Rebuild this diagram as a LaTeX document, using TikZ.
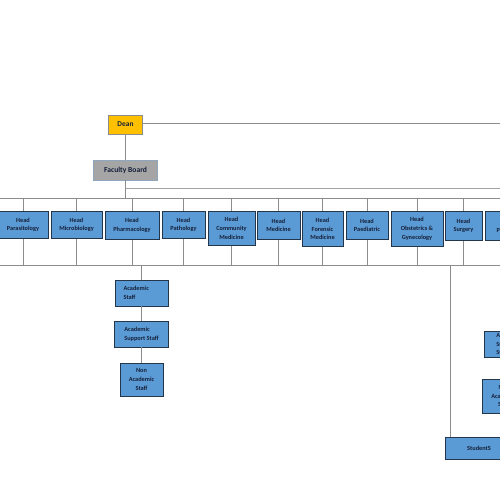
\documentclass[tikz,border=0pt]{standalone}
\usepackage{fontspec}
\setmainfont{Carlito}
\definecolor{headblue}{HTML}{5B9BD5}
\definecolor{boxedge}{HTML}{26364A}
\definecolor{txtnavy}{HTML}{15203A}
\definecolor{deangold}{HTML}{FFC000}
\definecolor{fbgray}{HTML}{A5A5A5}
\definecolor{fbedge}{HTML}{8FA6BF}
\definecolor{linegray}{HTML}{8C8C8C}
\tikzset{
  orgbox/.style={draw=boxedge, fill=headblue, text=txtnavy, line width=0.8pt,
    inner sep=0pt, align=center, font=\bfseries\fontsize{6.3}{8.8}\selectfont},
  headbox/.style={orgbox, anchor=north, minimum height=#1},
  headbox/.default=27pt,
  conn/.style={draw=linegray, line width=0.8pt},
}
\begin{document}
\begin{tikzpicture}[x=1pt,y=-1pt]
\useasboundingbox (0,0) rectangle (500,500);
\fill[white] (0,0) rectangle (500,500);
\clip (0,0) rectangle (500,500);

% top
\node[orgbox, fill=deangold, draw=linegray, minimum width=34pt, minimum height=19pt,
      font=\bfseries\fontsize{7.4}{9}\selectfont] (dean) at (125.5,124.5) {Dean};
\node[orgbox, fill=fbgray, draw=fbedge, minimum width=64pt, minimum height=20pt,
      font=\bfseries\fontsize{7.6}{9}\selectfont] (fb) at (125.5,170) {Faculty Board};

\coordinate (deanR) at (500,123);
\coordinate (midR) at (500,188);
\coordinate (busTL) at (0,198);
\coordinate (busTR) at (500,198);
\coordinate (busBL) at (0,265);
\coordinate (busBR) at (500,265);
\coordinate (stu) at (450,265);

\draw[conn] (dean.east |- deanR) -- (deanR);
\draw[conn] (dean.south) -- (fb.north);
\draw[conn] (fb.south) -- (fb.south |- busTL);
\draw[conn, draw=linegray!80] (fb.south |- midR) -- (midR);
\draw[conn] (busTL) -- (busTR);
\draw[conn] (busBL) -- (busBR);

% heads
\node[headbox, minimum width=50pt] (h1) at (23,211) {Head\\Parasitology};
\node[headbox, minimum width=51pt] (h2) at (76.5,211) {Head\\Microbiology};
\node[headbox=28pt, minimum width=54pt] (h3) at (132,211) {Head\\Pharmacology};
\node[headbox, minimum width=43pt] (h4) at (183.5,211) {Head\\Pathology};
\node[headbox=34pt, minimum width=47pt] (h5) at (231.5,211) {Head\\Community\\Medicine};
\node[headbox=28pt, minimum width=43pt] (h6) at (278.5,211) {Head\\Medicine};
\node[headbox=35pt, minimum width=41pt] (h7) at (322.5,211) {Head\\Forensic\\Medicine};
\node[headbox=28pt, minimum width=42pt] (h8) at (367,211) {Head\\Paediatric};
\node[headbox=35pt, minimum width=52pt] (h9) at (417,211) {Head\\Obstetrics \&\\Gynecology};
\node[headbox=29pt, minimum width=37pt] (h10) at (463.5,211) {Head\\Surgery};
\node[headbox=29pt, minimum width=50pt] (h11) at (510,211) {Head\\Psychiatry};

\foreach \n in {h1,h2,h3,h4,h5,h6,h7,h8,h9,h10,h11}{
  \draw[conn] (\n.north |- busTL) -- (\n.north);
  \draw[conn] (\n.south) -- (\n.south |- busBL);
}

% staff under pharmacology
\node[orgbox, align=left, minimum width=53pt, minimum height=26pt] (as) at (141.5,293) {Academic\\Staff\hspace*{24pt}};
\node[orgbox, align=left, minimum width=54pt, minimum height=26pt] (ass) at (141.5,334) {Academic\\Support Staff};
\node[orgbox, minimum width=43pt, minimum height=33pt] (nas) at (141.5,379.5) {Non\\Academic\\Staff};
\draw[conn] (as.north |- busBL) -- (as.north);
\draw[conn] (as.south) -- (ass.north);
\draw[conn] (ass.south) -- (nas.north);

% students
\node[orgbox, minimum width=68pt, minimum height=22pt] (st) at (479,448) {StudentS};
\draw[conn] (stu) -- (stu |- st.north);

% right-hand staff (partly outside)
\node[orgbox, align=left, minimum width=50pt, minimum height=26pt] (rass) at (509,344) {Academic\\Support\\Staff};
\node[orgbox, minimum width=44pt, minimum height=34pt] (rnas) at (504,396) {Non\\Academic\\Staff};
\draw[conn] (rass.south) -- (rnas.north);
\end{tikzpicture}
\end{document}
